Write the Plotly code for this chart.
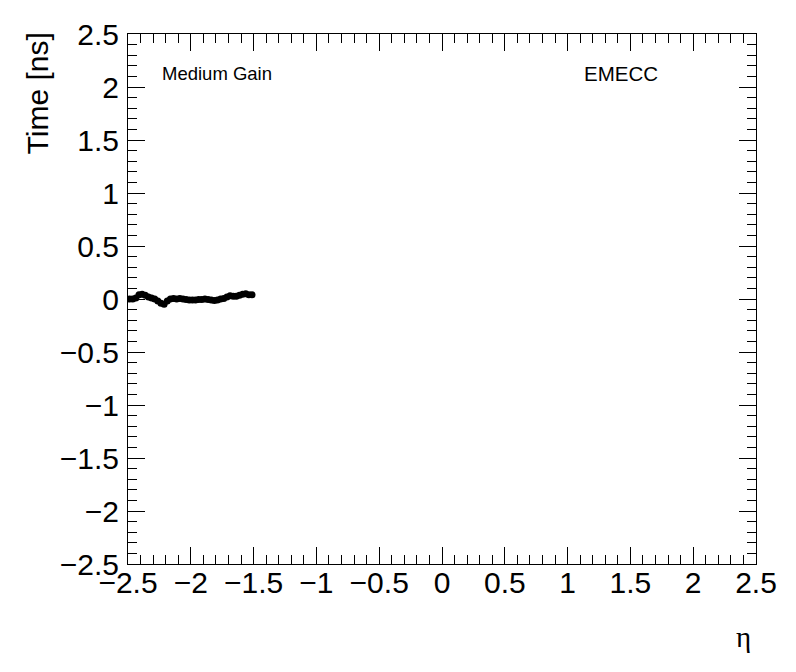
import plotly.graph_objects as go

eta = [-2.4875 + 0.025 * i for i in range(40)]
time_ns = [0.0, 0.0, 0.01, 0.04, 0.045, 0.035, 0.02, 0.01, 0.0, -0.02,
           -0.04, -0.05, -0.02, 0.0, 0.005, 0.0, 0.005, 0.0, -0.005, -0.01,
           -0.01, -0.01, -0.005, -0.005, 0.0, -0.005, -0.01, -0.015, -0.01, 0.0,
           0.005, 0.02, 0.03, 0.025, 0.025, 0.035, 0.045, 0.05, 0.04, 0.04]

tick_vals = [-2.5, -2, -1.5, -1, -0.5, 0, 0.5, 1, 1.5, 2, 2.5]
tick_text = ["\u22122.5", "\u22122", "\u22121.5", "\u22121", "\u22120.5", "0",
             "0.5", "1", "1.5", "2", "2.5"]

font = "Liberation Sans, Arial, Helvetica, sans-serif"

fig = go.Figure()
fig.add_trace(go.Scatter(
    x=eta, y=time_ns, mode="markers",
    marker=dict(color="black", size=7, symbol="circle"),
    showlegend=False,
))

axis_common = dict(
    showgrid=False, zeroline=False, showline=True, linecolor="black", linewidth=1,
    mirror="allticks", ticks="inside", ticklen=17, tickcolor="black", tickwidth=1,
    tickvals=tick_vals, ticktext=tick_text,
    tickfont=dict(family=font, size=30, color="black"),
    minor=dict(ticks="inside", ticklen=9, tickcolor="black", dtick=0.1, showgrid=False),
)

# page body has an 8px margin, so the figure is shrunk by 8px and its margins shifted
fig.update_layout(
    width=788, height=664,
    margin=dict(l=120, r=40, t=26, b=108, autoexpand=False),
    plot_bgcolor="white", paper_bgcolor="white",
    xaxis=dict(range=[-2.5, 2.5], ticklabelstandoff=-8, **axis_common),
    yaxis=dict(range=[-2.5, 2.5], ticklabelstandoff=2, **axis_common),
    annotations=[
        dict(text="Time [ns]", xref="paper", yref="paper", x=-0.144, y=1.006,
             xanchor="center", yanchor="top", textangle=-90, showarrow=False,
             font=dict(family=font, size=30, color="black")),
        dict(text="\u03b7", xref="paper", yref="paper", x=0.995, y=-0.103,
             xanchor="right", yanchor="top", showarrow=False,
             font=dict(family="Liberation Serif, DejaVu Serif, serif", size=29, color="black")),
        dict(text="Medium Gain", xref="paper", yref="paper", x=0.0509, y=0.9246,
             xanchor="left", yanchor="middle", showarrow=False,
             font=dict(family=font, size=18.5, color="black")),
        dict(text="EMECC", xref="paper", yref="paper", x=0.7235, y=0.9246,
             xanchor="left", yanchor="middle", showarrow=False,
             font=dict(family=font, size=20.5, color="black")),
    ],
)

fig.write_html("out.html")
